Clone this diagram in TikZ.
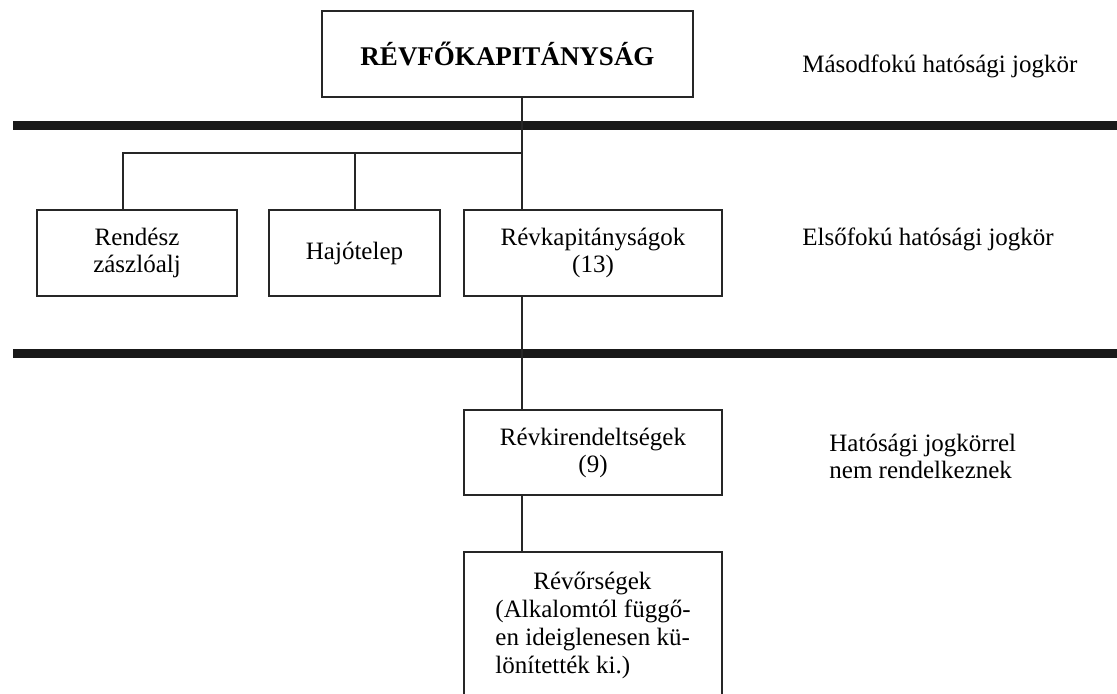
\documentclass[tikz,border=0pt]{standalone}
\usepackage{fontspec}
\setmainfont{Liberation Serif}
\usetikzlibrary{positioning}
\tikzset{
    % Box styles
    unit box/.style={
        draw=black!85,
        line width=1pt,
        rectangle,
        inner sep=0pt,
        minimum height=43pt,
        align=center,
        font=\fontsize{12.5}{13.5}\selectfont
    },
    chief box/.style={
        unit box,
        minimum width=185.5pt,
        font=\fontsize{13.5}{16}\selectfont\bfseries
    },
    % Line styles
    bar line/.style={
        line width=4.5pt,
        black!90
    },
    link line/.style={
        line width=1pt,
        black!85
    },
    level label/.style={
        align=left,
        inner sep=0pt,
        font=\fontsize{12.5}{13.5}\selectfont
    }
}

\begin{document}
\begin{tikzpicture}[x=0.5pt, y=-0.5pt]
        \useasboundingbox (0,0) rectangle (1117,693);
        \clip (0,0) rectangle (1117,693);

        % Define levels
        \node[chief box] (chief) at (507.5,54) {RÉVFŐKAPITÁNYSÁG};

        \node[unit box, minimum width=100pt] (rendesz) at (137,253) {Rendész\\zászlóalj};
        \node[unit box, minimum width=85.5pt] (hajo) at (354.5,253) {Hajótelep};
        \node[unit box, minimum width=129pt] (revkap) at (593,253) {Révkapitányságok\\(13)};

        \node[unit box, minimum width=129pt, minimum height=42.5pt] (revkir) at (593,452.5) {Révkirendeltségek\\(9)};
        \node[unit box, minimum width=129pt, minimum height=73pt, align=left,
            font=\fontsize{12.5}{14}\selectfont] (revor) at (593,625)
            {\makebox[97pt]{Révőrségek}\\(Alkalomtól függő-\\en ideiglenesen kü-\\lönítették ki.)};

        % Level bars
        \draw[bar line] (13,125.5) -- (1117,125.5);
        \draw[bar line] (13,353.5) -- (1117,353.5);

        % Connections
        \coordinate (spine) at (522,153);
        \coordinate (tapA) at (123,153);
        \coordinate (tapB) at (355,153);

        \draw[link line] (chief.south -| spine) -- (revkap.north -| spine);
        \draw[link line] (rendesz.north -| tapA) -- (tapA) -- (spine);
        \draw[link line] (hajo.north -| tapB) -- (tapB);
        \draw[link line] (revkap.south -| spine) -- (revkir.north -| spine);
        \draw[link line] (revkir.south -| spine) -- (revor.north -| spine);

        % Annotations
        \node[level label, anchor=base west] (masod) at (802,72) {Másodfokú hatósági jogkör};
        \node[level label, anchor=base west] (elso) at (802,245) {Elsőfokú hatósági jogkör};
        \node[level label, anchor=west] (nincs) at (829,456) {Hatósági jogkörrel\\nem rendelkeznek};
    \end{tikzpicture}
\end{document}
